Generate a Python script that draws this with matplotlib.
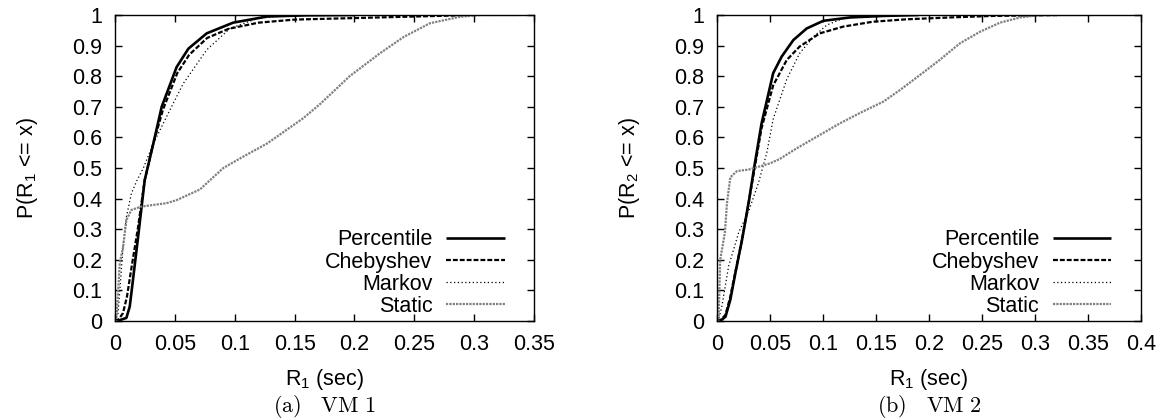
import matplotlib
matplotlib.use("Agg")
import matplotlib.pyplot as plt
from matplotlib.ticker import FormatStrFormatter

plt.rcParams["font.family"] = ["Liberation Sans", "DejaVu Sans"]
plt.rcParams["mathtext.fontset"] = "custom"
plt.rcParams["mathtext.rm"] = "Liberation Sans"
plt.rcParams["mathtext.it"] = "Liberation Sans"
plt.rcParams["mathtext.default"] = "regular"

# ---- VM 1 response-time CDFs ----
vm1_pct_x = [0, 0.004, 0.0095, 0.0123, 0.015, 0.019, 0.0248, 0.032, 0.039, 0.0515, 0.0613, 0.0766, 0.0987, 0.127, 0.16, 0.20]
vm1_pct_y = [0, 0.003, 0.01, 0.047, 0.134, 0.265, 0.46, 0.58, 0.70, 0.83, 0.89, 0.94, 0.975, 0.995, 0.999, 1.0]

vm1_cheb_x = [0, 0.003, 0.0067, 0.010, 0.014, 0.019, 0.0248, 0.032, 0.040, 0.052, 0.062, 0.077, 0.095, 0.12, 0.15, 0.20, 0.25, 0.30]
vm1_cheb_y = [0, 0.005, 0.026, 0.08, 0.18, 0.30, 0.46, 0.58, 0.69, 0.81, 0.87, 0.925, 0.955, 0.975, 0.985, 0.99, 0.995, 1.0]

vm1_mark_x = [0, 0.0025, 0.0047, 0.0067, 0.0095, 0.0137, 0.0178, 0.0237, 0.032, 0.043, 0.057, 0.0766, 0.096, 0.12, 0.15]
vm1_mark_y = [0, 0.025, 0.134, 0.243, 0.34, 0.417, 0.455, 0.50, 0.58, 0.667, 0.776, 0.886, 0.956, 0.99, 1.0]

vm1_stat_x = [0, 0.001, 0.003, 0.004, 0.0067, 0.0095, 0.0137, 0.022, 0.043, 0.0515, 0.071, 0.0905, 0.107, 0.127,
              0.157, 0.171, 0.183, 0.196, 0.221, 0.241, 0.263, 0.288, 0.305, 0.337]
vm1_stat_y = [0, 0.0, 0.12, 0.19, 0.24, 0.33, 0.363, 0.374, 0.385, 0.395, 0.43, 0.50, 0.537, 0.58,
              0.662, 0.708, 0.752, 0.80, 0.874, 0.928, 0.973, 0.994, 1.0, 1.0]

# ---- VM 2 response-time CDFs ----
vm2_pct_x = [0, 0.004, 0.008, 0.0126, 0.0173, 0.0236, 0.030, 0.035, 0.042, 0.053, 0.061, 0.072, 0.0846, 0.1003, 0.1255, 0.157, 0.19]
vm2_pct_y = [0, 0.003, 0.014, 0.07, 0.156, 0.265, 0.39, 0.50, 0.645, 0.81, 0.864, 0.918, 0.956, 0.981, 0.992, 0.997, 1.0]

vm2_cheb_x = [0, 0.004, 0.008, 0.0126, 0.0173, 0.0236, 0.030, 0.035, 0.042, 0.053, 0.0658, 0.078, 0.097, 0.119, 0.147, 0.179, 0.22, 0.26, 0.324]
vm2_cheb_y = [0, 0.005, 0.02, 0.08, 0.16, 0.265, 0.39, 0.49, 0.63, 0.77, 0.853, 0.897, 0.94, 0.962, 0.978, 0.986, 0.992, 0.997, 1.0]

vm2_mark_x = [0, 0.002, 0.0047, 0.011, 0.0205, 0.03, 0.039, 0.047, 0.053, 0.0658, 0.078, 0.091, 0.1035, 0.119, 0.14]
vm2_mark_y = [0, 0.01, 0.05, 0.18, 0.29, 0.36, 0.45, 0.55, 0.66, 0.79, 0.875, 0.929, 0.967, 0.989, 1.0]

vm2_stat_x = [0, 0.0015, 0.003, 0.0075, 0.0094, 0.0126, 0.0189, 0.03, 0.05, 0.0594, 0.075, 0.097, 0.116, 0.135,
              0.157, 0.1727, 0.1915, 0.21, 0.229, 0.248, 0.267, 0.286, 0.305, 0.355]
vm2_stat_y = [0, 0.0, 0.2, 0.29, 0.385, 0.47, 0.49, 0.495, 0.515, 0.53, 0.564, 0.608, 0.646, 0.68,
              0.717, 0.755, 0.804, 0.853, 0.907, 0.945, 0.975, 0.992, 1.0, 1.0]

series_names = ["Percentile", "Chebyshev", "Markov", "Static"]
x_ticks_vm1 = [0, 0.05, 0.1, 0.15, 0.2, 0.25, 0.3, 0.35]
x_ticks_vm2 = [0, 0.05, 0.1, 0.15, 0.2, 0.25, 0.3, 0.35, 0.4]
y_ticks = [0, 0.1, 0.2, 0.3, 0.4, 0.5, 0.6, 0.7, 0.8, 0.9, 1.0]

styles = [
    dict(color="black", lw=1.9, linestyle="-"),
    dict(color="black", lw=1.6, linestyle=(0, (2.2, 0.9))),
    dict(color="black", lw=0.9, linestyle=(0, (1, 2))),
    dict(color="#808080", lw=1.6, linestyle=(0, (1, 0.5))),
]

FS = 15.5

fig = plt.figure(figsize=(11.62, 4.2), dpi=100)
ax1 = fig.add_axes([115 / 1162, 1 - 321 / 420, 419 / 1162, 306 / 420])
ax2 = fig.add_axes([717 / 1162, 1 - 321 / 420, 424 / 1162, 306 / 420])

panels = [
    (ax1, [(vm1_pct_x, vm1_pct_y), (vm1_cheb_x, vm1_cheb_y), (vm1_mark_x, vm1_mark_y), (vm1_stat_x, vm1_stat_y)],
     x_ticks_vm1, 0.35, "P(R$_1$ <= x)", r"$\mathrm{(a)\quad VM\ 1}$"),
    (ax2, [(vm2_pct_x, vm2_pct_y), (vm2_cheb_x, vm2_cheb_y), (vm2_mark_x, vm2_mark_y), (vm2_stat_x, vm2_stat_y)],
     x_ticks_vm2, 0.4, "P(R$_2$ <= x)", r"$\mathrm{(b)\quad VM\ 2}$"),
]

for ax, curves, xt, xmax, ylab, cap in panels:
    for (xs, ys), name, st in zip(curves, series_names, styles):
        ax.plot(xs, ys, label=name, solid_capstyle="butt", dash_capstyle="butt", **st)
    ax.set_xlim(0, xmax)
    ax.set_ylim(0, 1)
    ax.set_xticks(xt)
    ax.set_yticks(y_ticks)
    ax.xaxis.set_major_formatter(FormatStrFormatter("%g"))
    ax.yaxis.set_major_formatter(FormatStrFormatter("%g"))
    ax.tick_params(direction="in", length=5, width=1, top=True, right=True,
                   labelsize=FS, pad=9)
    for sp in ax.spines.values():
        sp.set_linewidth(1.0)
    ax.set_ylabel(ylab, fontsize=FS, labelpad=23)
    ax.set_xlabel("R$_1$ (sec)", fontsize=FS, labelpad=9)
    leg = ax.legend(loc="lower right", bbox_to_anchor=(0.94, 0.0), frameon=False,
                    markerfirst=False, fontsize=FS, handlelength=2.7, handletextpad=0.65,
                    labelspacing=0.05, borderpad=0.2, borderaxespad=0.0)
    for t in leg.get_texts():
        t.set_ha("right")
    pos = ax.get_position()
    fig.text((pos.x0 + pos.x1) / 2, 0.0, cap, ha="center", va="bottom",
             fontsize=16, math_fontfamily="cm")

fig.savefig("out.png", dpi=100)
